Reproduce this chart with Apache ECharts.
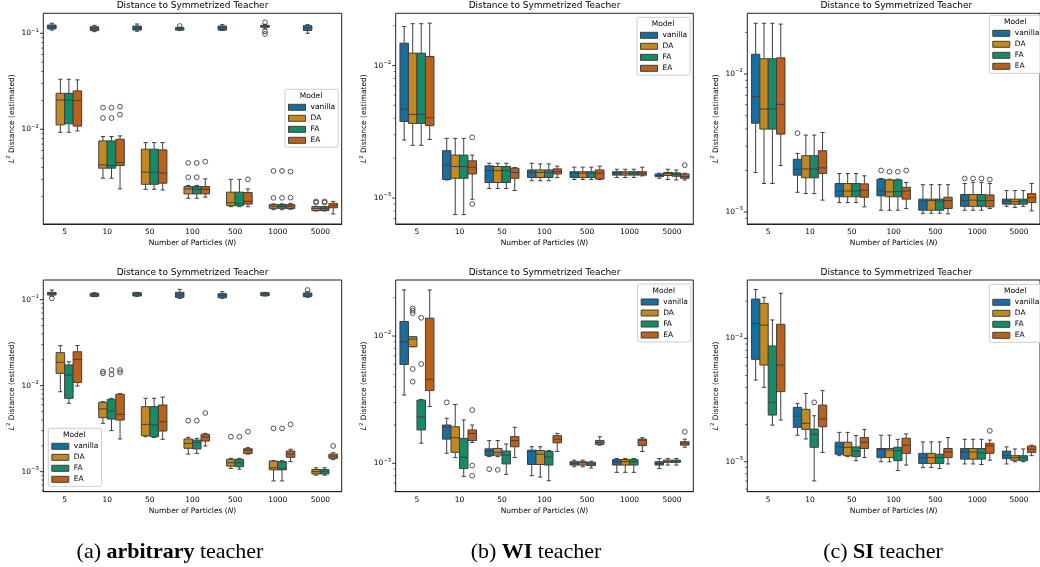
<!DOCTYPE html>
<html>
<head>
<meta charset="utf-8">
<script src="https://cdn.jsdelivr.net/npm/echarts@6/dist/echarts.min.js"></script>
<style>
  html, body { margin: 0; padding: 0; background: #fff; }
  #chart { width: 1040px; height: 567px; }
</style>
</head>
<body>
<div id="chart"></div>
<script>
// categories and models
const categories = ['5', '10', '50', '100', '500', '1000', '5000'];
const models = ['vanilla', 'DA', 'FA', 'EA'];

// box rows: [lower whisker, Q1, median, Q3, upper whisker], one row per category
// (a) arbitrary teacher, top
const aTopVanilla = [[0.108, 0.111, 0.116, 0.122, 0.127], [0.104, 0.107, 0.112, 0.117, 0.121], [0.105, 0.108, 0.114, 0.119, 0.125], [0.107, 0.108, 0.112, 0.1145, 0.116], [0.107, 0.108, 0.114, 0.119, 0.123], [0.111, 0.1155, 0.118, 0.121, 0.124], [0.100, 0.107, 0.114, 0.120, 0.123]];
const aTopDA = [[0.0093, 0.0111, 0.0202, 0.0237, 0.0332], [0.00309, 0.00393, 0.00425, 0.00756, 0.0084], [0.00237, 0.00267, 0.00357, 0.0062, 0.00726], [0.00191, 0.00212, 0.00239, 0.00253, 0.0026], [0.00156, 0.0016, 0.00172, 0.00221, 0.00301], [0.00145, 0.0015, 0.00158, 0.00164, 0.00167], [0.00141, 0.00142, 0.0015, 0.00156, 0.00156]];
const aTopFA = [[0.0093, 0.0114, 0.0202, 0.0237, 0.0332], [0.00309, 0.00393, 0.00419, 0.00756, 0.0084], [0.00237, 0.00267, 0.00357, 0.0062, 0.00726], [0.00191, 0.00212, 0.00237, 0.00253, 0.0026], [0.00156, 0.0016, 0.00169, 0.00221, 0.00301], [0.00145, 0.0015, 0.00158, 0.00164, 0.00167], [0.00141, 0.00142, 0.0015, 0.00156, 0.00156]];
const aTopEA = [[0.0096, 0.0108, 0.0199, 0.0251, 0.0327], [0.00239, 0.00419, 0.0045, 0.00787, 0.00853], [0.00233, 0.00274, 0.00351, 0.0061, 0.00726], [0.00196, 0.00212, 0.00237, 0.00253, 0.00304], [0.00156, 0.00166, 0.00177, 0.00219, 0.00239], [0.00147, 0.00149, 0.00158, 0.00164, 0.00169], [0.00131, 0.00152, 0.0016, 0.00169, 0.00177]];
// (b) WI teacher, top
const bTopVanilla = [[0.00274, 0.00378, 0.00468, 0.01475, 0.0197], [0.00137, 0.00138, 0.00177, 0.00228, 0.00282], [0.00118, 0.00131, 0.00161, 0.00175, 0.00183], [0.00135, 0.00143, 0.00156, 0.00163, 0.00183], [0.00138, 0.00143, 0.00154, 0.00158, 0.00171], [0.00143, 0.00149, 0.00154, 0.00158, 0.00165], [0.00141, 0.00145, 0.00148, 0.00152, 0.00154]];
const bTopDA = [[0.0025, 0.00366, 0.00428, 0.0124, 0.0207], [0.00075, 0.00141, 0.00173, 0.00211, 0.00282], [0.00118, 0.00131, 0.00161, 0.00173, 0.00183], [0.00135, 0.00143, 0.00156, 0.00163, 0.00181], [0.00138, 0.00143, 0.00154, 0.00158, 0.00171], [0.00143, 0.00149, 0.00154, 0.00158, 0.00165], [0.00138, 0.00148, 0.00153, 0.00156, 0.00165]];
const bTopFA = [[0.0025, 0.00366, 0.00428, 0.0124, 0.0207], [0.00075, 0.00141, 0.00173, 0.00211, 0.00282], [0.00118, 0.00131, 0.00161, 0.00173, 0.00183], [0.00135, 0.00143, 0.00156, 0.00163, 0.00181], [0.00138, 0.00143, 0.00154, 0.00158, 0.00171], [0.00143, 0.00149, 0.00154, 0.00158, 0.00165], [0.00137, 0.00146, 0.00151, 0.00155, 0.00163]];
const bTopEA = [[0.00277, 0.00352, 0.00404, 0.0117, 0.0209], [0.00098, 0.00152, 0.00171, 0.00191, 0.00211], [0.00114, 0.00141, 0.00156, 0.00168, 0.0017], [0.00143, 0.00152, 0.00158, 0.00166, 0.00174], [0.00138, 0.00139, 0.00154, 0.00163, 0.00174], [0.00147, 0.00149, 0.00154, 0.00158, 0.00171], [0.00137, 0.00141, 0.00145, 0.00152, 0.00154]];
// (c) SI teacher, top
const cTopVanilla = [[0.00193, 0.0044, 0.00686, 0.0139, 0.0233], [0.00139, 0.00185, 0.00204, 0.00241, 0.00266], [0.00117, 0.00129, 0.00142, 0.00161, 0.0019], [0.00103, 0.00131, 0.00142, 0.00173, 0.00175], [0.00098, 0.00103, 0.0012, 0.00124, 0.00158], [0.00103, 0.0011, 0.00121, 0.00134, 0.00161], [0.0011, 0.00114, 0.0012, 0.00124, 0.00143]];
const cTopDA = [[0.00161, 0.00399, 0.00557, 0.0129, 0.0233], [0.00136, 0.00177, 0.00205, 0.00256, 0.00361], [0.00117, 0.00129, 0.00142, 0.00161, 0.0019], [0.00103, 0.00129, 0.0014, 0.00171, 0.00173], [0.00098, 0.00103, 0.00121, 0.00124, 0.00158], [0.00103, 0.0011, 0.00122, 0.00134, 0.00164], [0.00108, 0.00114, 0.00119, 0.00124, 0.00143]];
const cTopFA = [[0.00161, 0.00399, 0.00557, 0.0129, 0.0233], [0.00136, 0.00177, 0.00205, 0.00256, 0.00361], [0.00117, 0.00129, 0.00142, 0.00161, 0.0019], [0.00103, 0.00129, 0.00141, 0.00171, 0.00173], [0.00098, 0.00103, 0.0012, 0.00124, 0.00158], [0.00103, 0.0011, 0.00121, 0.00134, 0.00164], [0.0011, 0.00114, 0.0012, 0.00124, 0.00143]];
const cTopEA = [[0.00217, 0.00367, 0.00603, 0.0131, 0.023], [0.00122, 0.0019, 0.00209, 0.00278, 0.00377], [0.00109, 0.00128, 0.00144, 0.0016, 0.00183], [0.00106, 0.00124, 0.00142, 0.00151, 0.00164], [0.00097, 0.00106, 0.00121, 0.00128, 0.00158], [0.00106, 0.00109, 0.00121, 0.00133, 0.00161], [0.00102, 0.00117, 0.00127, 0.00136, 0.00161]];
// (a) arbitrary teacher, bottom
const aBotVanilla = [[0.1103, 0.1133, 0.1175, 0.1217, 0.1295], [0.1084, 0.1094, 0.1143, 0.1185, 0.1206], [0.1094, 0.1103, 0.1154, 0.1206, 0.1217], [0.1036, 0.1065, 0.1143, 0.1217, 0.1318], [0.1036, 0.1055, 0.1113, 0.1175, 0.1239], [0.1103, 0.1113, 0.1164, 0.1206, 0.1217], [0.1065, 0.1084, 0.1133, 0.1196, 0.1239]];
const aBotDA = [[0.0085, 0.0139, 0.0187, 0.0242, 0.0292], [0.00365, 0.00425, 0.00536, 0.0064, 0.0065], [0.00255, 0.00262, 0.00355, 0.0057, 0.00713], [0.0016, 0.00187, 0.00213, 0.0024, 0.00251], [0.00109, 0.00116, 0.00127, 0.00139, 0.00143], [0.00078, 0.00105, 0.00111, 0.00133, 0.00134], [0.00091, 0.00094, 0.001, 0.00106, 0.00111]];
const aBotFA = [[0.00624, 0.00713, 0.0133, 0.0174, 0.019], [0.003, 0.00409, 0.00507, 0.00694, 0.00713], [0.0025, 0.00255, 0.00349, 0.0057, 0.00713], [0.00163, 0.00184, 0.00219, 0.00233, 0.00244], [0.00107, 0.00114, 0.00127, 0.00139, 0.00143], [0.00078, 0.00105, 0.00108, 0.00131, 0.00134], [0.00091, 0.00094, 0.001, 0.00106, 0.00111]];
const aBotEA = [[0.0099, 0.0109, 0.0202, 0.0248, 0.0292], [0.0024, 0.00398, 0.00465, 0.00794, 0.00807], [0.00238, 0.00297, 0.00381, 0.00596, 0.00738], [0.00199, 0.00227, 0.00253, 0.00272, 0.00279], [0.0016, 0.00163, 0.00177, 0.00185, 0.0019], [0.00131, 0.00147, 0.0016, 0.00174, 0.00182], [0.00138, 0.00143, 0.00152, 0.0016, 0.00166]];
// (b) WI teacher, bottom
const bBotVanilla = [[0.00344, 0.00598, 0.00903, 0.013, 0.023], [0.0012, 0.00155, 0.00192, 0.002, 0.00226], [0.00113, 0.00115, 0.00125, 0.0013, 0.00151], [0.0008, 0.00098, 0.00124, 0.00127, 0.00135], [0.00094, 0.00097, 0.001, 0.00103, 0.00106], [0.00085, 0.00097, 0.00103, 0.00107, 0.00109], [0.00091, 0.00097, 0.001, 0.00103, 0.00109]];
const bBotDA = [[0.00824, 0.00824, 0.00947, 0.00988, 0.00988], [0.00111, 0.00122, 0.00159, 0.00194, 0.0029], [0.00113, 0.00116, 0.00122, 0.00131, 0.00151], [0.00078, 0.00098, 0.00118, 0.00126, 0.00135], [0.00094, 0.00097, 0.00101, 0.00103, 0.00106], [0.00085, 0.00097, 0.00103, 0.00107, 0.00109], [0.00097, 0.00102, 0.00103, 0.00106, 0.00109]];
const bBotFA = [[0.00144, 0.00183, 0.00232, 0.00314, 0.00318], [0.00079, 0.00091, 0.00112, 0.00157, 0.00219], [0.00082, 0.00099, 0.00116, 0.00125, 0.00142], [0.00073, 0.00097, 0.00112, 0.00124, 0.00126], [0.00092, 0.00096, 0.00099, 0.00102, 0.00104], [0.00085, 0.00097, 0.00103, 0.00107, 0.00109], [0.00097, 0.00102, 0.00103, 0.00106, 0.00109]];
const bBotEA = [[0.00279, 0.00373, 0.00457, 0.0138, 0.023], [0.00146, 0.00151, 0.00172, 0.00183, 0.002], [0.00111, 0.00135, 0.00151, 0.00162, 0.00192], [0.00124, 0.00145, 0.00155, 0.00165, 0.00172], [0.00139, 0.00141, 0.00146, 0.00151, 0.00162], [0.00124, 0.00138, 0.00152, 0.00155, 0.00159], [0.00134, 0.00139, 0.00144, 0.00148, 0.00155]];
// (c) SI teacher, bottom
const cBotVanilla = [[0.00459, 0.00676, 0.0132, 0.0208, 0.0249], [0.00164, 0.0019, 0.00234, 0.00276, 0.00297], [0.00112, 0.00115, 0.00132, 0.00144, 0.00173], [0.001, 0.00108, 0.00126, 0.00128, 0.00164], [0.0009, 0.00097, 0.00108, 0.00117, 0.00145], [0.00096, 0.00105, 0.0012, 0.00128, 0.00152], [0.00096, 0.00106, 0.00112, 0.00122, 0.00132]];
const cBotDA = [[0.00401, 0.00608, 0.0128, 0.0192, 0.0215], [0.00153, 0.00183, 0.00205, 0.00266, 0.00358], [0.0011, 0.00112, 0.00131, 0.00144, 0.00173], [0.001, 0.00108, 0.00124, 0.00128, 0.00164], [0.0009, 0.00097, 0.00108, 0.00117, 0.00145], [0.00096, 0.00105, 0.0012, 0.00128, 0.00152], [0.001, 0.00103, 0.00108, 0.00112, 0.00127]];
const cBotFA = [[0.00198, 0.00239, 0.00301, 0.00867, 0.0141], [0.0007, 0.00131, 0.00167, 0.00184, 0.00236], [0.00102, 0.0011, 0.00122, 0.00132, 0.00163], [0.00085, 0.00102, 0.00123, 0.00131, 0.00152], [0.00088, 0.00097, 0.00108, 0.00115, 0.00145], [0.00095, 0.00105, 0.00118, 0.00128, 0.00152], [0.001, 0.00102, 0.00108, 0.00112, 0.00127]];
const cBotEA = [[0.00218, 0.0037, 0.00608, 0.013, 0.0232], [0.00119, 0.00192, 0.00222, 0.00288, 0.00377], [0.00108, 0.00128, 0.00144, 0.00157, 0.00183], [0.00094, 0.00117, 0.00136, 0.00155, 0.00168], [0.00096, 0.00108, 0.0012, 0.00128, 0.00157], [0.00103, 0.00117, 0.00135, 0.00141, 0.0015], [0.00112, 0.00119, 0.00126, 0.00134, 0.00136]];

// outliers: [model index, category index, value]
const aTopOutliers = [[0, 3, 0.119], [0, 5, 0.130], [0, 5, 0.105], [0, 5, 0.0985],
  [1, 1, 0.0168], [1, 1, 0.0131], [1, 3, 0.00446], [1, 3, 0.00316], [1, 5, 0.00368], [1, 5, 0.00193], [1, 6, 0.00177], [1, 6, 0.00172],
  [2, 1, 0.0168], [2, 1, 0.0131], [2, 3, 0.00446], [2, 3, 0.00316], [2, 5, 0.00368], [2, 5, 0.00193], [2, 6, 0.00177], [2, 6, 0.00172],
  [3, 1, 0.0172], [3, 1, 0.0142], [3, 3, 0.0046], [3, 4, 0.00301], [3, 5, 0.00362], [3, 5, 0.00194]];
const bTopOutliers = [[3, 1, 0.00287], [3, 1, 0.0009], [3, 6, 0.00177]];
const cTopOutliers = [[0, 1, 0.00373], [0, 3, 0.002], [1, 3, 0.00196], [2, 3, 0.00196], [3, 3, 0.002],
  [0, 5, 0.00175], [1, 5, 0.00175], [2, 5, 0.00175], [3, 5, 0.00172]];
const aBotOutliers = [[0, 0, 0.1036], [0, 6, 0.1295],
  [1, 1, 0.0146], [1, 1, 0.0139], [2, 1, 0.0152], [2, 1, 0.0135], [3, 1, 0.0152], [3, 1, 0.0143],
  [1, 3, 0.00392], [2, 3, 0.00392], [3, 3, 0.00481], [1, 4, 0.00255], [2, 4, 0.00255], [3, 4, 0.00292],
  [1, 5, 0.00319], [2, 5, 0.00319], [3, 5, 0.00355], [3, 6, 0.00199]];
const bBotOutliers = [[1, 0, 0.0165], [1, 0, 0.0158], [1, 0, 0.0151], [1, 0, 0.00551], [1, 0, 0.00438],
  [2, 0, 0.0139], [2, 0, 0.00603], [0, 1, 0.00301], [3, 1, 0.00262], [3, 1, 0.00096], [3, 1, 0.0008],
  [0, 2, 0.0009], [1, 2, 0.00089], [3, 6, 0.00177]];
const cBotOutliers = [[2, 1, 0.00303], [3, 5, 0.00178]];

const boxes = [
  [aTopVanilla, aTopDA, aTopFA, aTopEA],
  [bTopVanilla, bTopDA, bTopFA, bTopEA],
  [cTopVanilla, cTopDA, cTopFA, cTopEA],
  [aBotVanilla, aBotDA, aBotFA, aBotEA],
  [bBotVanilla, bBotDA, bBotFA, bBotEA],
  [cBotVanilla, cBotDA, cBotFA, cBotEA]
];
const outliers = [aTopOutliers, bTopOutliers, cTopOutliers, aBotOutliers, bBotOutliers, cBotOutliers];

// layout of the six panels (pixels) and their log-axis limits
const panels = [
  { left: 43.3, top: 13.3, width: 298.4, height: 210.7, min: 1.03e-3, max: 0.1615, nameGap: 25, legend: [285, 89.3] },
  { left: 395.7, top: 13.3, width: 297.6, height: 210.7, min: 6.37e-4, max: 0.0248, nameGap: 24, legend: [637, 17.3] },
  { left: 747.3, top: 13.3, width: 298, height: 210.7, min: 8.19e-4, max: 0.02754, nameGap: 24, legend: [989.3, 15.3] },
  { left: 43.3, top: 280, width: 298.4, height: 211.7, min: 5.85e-4, max: 0.1693, nameGap: 25, legend: [48.3, 428.3] },
  { left: 395.7, top: 280, width: 297.6, height: 211.7, min: 5.99e-4, max: 0.02754, nameGap: 24, legend: [637.7, 284] },
  { left: 747.3, top: 280, width: 298, height: 211.7, min: 5.72e-4, max: 0.0297, nameGap: 24, legend: [989.3, 284.3] }
];
const captions = [
  { x: 170, text: '(a) {b|arbitrary} teacher' },
  { x: 536, text: '(b) {b|WI} teacher' },
  { x: 883, text: '(c) {b|SI} teacher' }
];

const fills = ['#176d9c', '#c38820', '#168b6a', '#ba611b'];
const edge = '#3f3f3f';
const FONT = 'DejaVu Sans';
const SERIF = 'Liberation Serif';

let myChart = echarts.init(document.getElementById('chart'));

function powLabel(v) {
  const e = Math.log10(v);
  if (Math.abs(e - Math.round(e)) > 1e-6) return '';
  return '{b|10}{s|\u2212' + Math.abs(Math.round(e)) + '}';
}

// one box per category, dodged by model index like seaborn's hue
function boxRenderer(hue) {
  return function (params, api) {
    const cs = params.coordSys;
    const band = cs.width / categories.length;
    const w = band * 0.8 / models.length;
    const cat = api.value(0);
    const x = api.coord([cat, api.value(3)])[0] + (hue - 1.5) * w;
    const y = (d) => api.coord([cat, api.value(d)])[1];
    const yLo = y(1), yQ1 = y(2), yMed = y(3), yQ3 = y(4), yHi = y(5);
    const half = w / 2;
    const cap = half / 2;
    const line = { stroke: edge, lineWidth: 1 };
    return {
      type: 'group',
      children: [
        { type: 'line', shape: { x1: x, y1: yQ1, x2: x, y2: yLo }, style: line },
        { type: 'line', shape: { x1: x, y1: yQ3, x2: x, y2: yHi }, style: line },
        { type: 'line', shape: { x1: x - cap, y1: yLo, x2: x + cap, y2: yLo }, style: line },
        { type: 'line', shape: { x1: x - cap, y1: yHi, x2: x + cap, y2: yHi }, style: line },
        { type: 'rect', shape: { x: x - half, y: yQ3, width: 2 * half, height: yQ1 - yQ3 }, style: { fill: fills[hue], stroke: edge, lineWidth: 1 } },
        { type: 'line', shape: { x1: x - half, y1: yMed, x2: x + half, y2: yMed }, style: line }
      ]
    };
  };
}

function outlierRenderer(params, api) {
  const cs = params.coordSys;
  const w = cs.width / categories.length * 0.8 / models.length;
  const hue = api.value(0);
  const p = api.coord([api.value(1), api.value(2)]);
  return {
    type: 'circle',
    shape: { cx: p[0] + (hue - 1.5) * w, cy: p[1], r: 2.4 },
    style: { fill: 'none', stroke: edge, lineWidth: 0.9 }
  };
}

// matplotlib-style log ticks (major at decades, minor at 2..9)
function tickRenderer(params, api) {
  const cs = params.coordSys;
  const major = api.value(1) === 1;
  const y = api.coord([0, api.value(0)])[1];
  const len = major ? 3.5 : 2;
  return {
    type: 'line',
    shape: { x1: cs.x - len, y1: y, x2: cs.x, y2: y },
    style: { stroke: '#000', lineWidth: major ? 0.8 : 0.6 }
  };
}

const grid = [], xAxis = [], yAxis = [], series = [], title = [], legend = [], graphic = [];

panels.forEach((p, pi) => {
  grid.push({ left: p.left, top: p.top, width: p.width, height: p.height, show: true, borderColor: '#222', borderWidth: 1, backgroundColor: 'transparent' });
  xAxis.push({
    type: 'category', gridIndex: pi, data: categories, boundaryGap: true,
    axisLine: { show: true, lineStyle: { color: '#222', width: 1 } },
    axisTick: { alignWithLabel: true, length: 3, lineStyle: { color: '#000', width: 0.8 } },
    axisLabel: { color: '#000', fontFamily: FONT, fontSize: 7.5, margin: 4.5 },
    splitLine: { show: false },
    name: 'Number of Particles ({i|N})', nameLocation: 'middle', nameGap: 15,
    nameTextStyle: { color: '#000', fontFamily: FONT, fontSize: 7.5, rich: { i: { fontStyle: 'italic', fontFamily: FONT, fontSize: 7.5, color: '#000' } } }
  });
  yAxis.push({
    type: 'log', logBase: 10, gridIndex: pi, min: p.min, max: p.max,
    axisLine: { show: false }, axisTick: { show: false }, splitLine: { show: false },
    axisLabel: {
      formatter: powLabel, margin: 4.5, color: '#000',
      rich: {
        b: { fontFamily: FONT, fontSize: 7.5, lineHeight: 11, color: '#000' },
        s: { fontFamily: FONT, fontSize: 5.3, lineHeight: 6, verticalAlign: 'top', color: '#000' }
      }
    },
    name: '{i|L}{s|2} Distance (estimated)', nameLocation: 'middle', nameGap: p.nameGap,
    nameTextStyle: {
      color: '#000', fontFamily: FONT, fontSize: 7.5, lineHeight: 11,
      rich: {
        i: { fontStyle: 'italic', fontFamily: FONT, fontSize: 7.5, lineHeight: 11, color: '#000' },
        s: { fontFamily: FONT, fontSize: 5.3, lineHeight: 6, verticalAlign: 'top', color: '#000' }
      }
    }
  });
  title.push({
    text: 'Distance to Symmetrized Teacher', left: p.left + p.width / 2, top: p.top - 12,
    textAlign: 'center', padding: 0,
    textStyle: { fontFamily: FONT, fontSize: 9, fontWeight: 'normal', color: '#000' }
  });

  boxes[pi].forEach((rows, h) => {
    series.push({
      type: 'custom', name: models[h], xAxisIndex: pi, yAxisIndex: pi, silent: true, z: 2,
      itemStyle: { color: fills[h] },
      encode: { x: 0, y: [1, 2, 3, 4, 5] },
      data: rows.map((r, i) => [i].concat(r)),
      renderItem: boxRenderer(h)
    });
  });
  models.forEach((m, h) => {
    series.push({
      type: 'custom', name: m, xAxisIndex: pi, yAxisIndex: pi, silent: true, z: 3,
      itemStyle: { color: fills[h] },
      encode: { x: 1, y: 2 },
      data: outliers[pi].filter((o) => o[0] === h),
      renderItem: outlierRenderer
    });
  });

  const ticks = [];
  for (let e = -4; e <= 0; e++) {
    for (let k = 1; k <= 9; k++) {
      const v = k * Math.pow(10, e);
      if (v >= p.min && v <= p.max) ticks.push([v, k]);
    }
  }
  series.push({
    type: 'custom', xAxisIndex: pi, yAxisIndex: pi, silent: true, clip: false,
    encode: { y: 0 }, data: ticks, renderItem: tickRenderer
  });

  const [lx, ly] = p.legend;
  legend.push({
    left: lx, top: ly, orient: 'vertical', icon: 'rect', selectedMode: false,
    padding: [13.5, 3, 2.5, 3], itemGap: 2, itemWidth: 17, itemHeight: 6,
    backgroundColor: 'rgba(255,255,255,0.8)', borderColor: '#cccccc', borderWidth: 1, borderRadius: 2,
    textStyle: { fontFamily: FONT, fontSize: 7.5, lineHeight: 9, color: '#000' },
    data: models.map((m, h) => ({ name: m, itemStyle: { color: fills[h], borderColor: edge, borderWidth: 1 } }))
  });
  graphic.push({
    type: 'text', x: lx + 26, y: ly + 6.7, z: 100,
    style: { text: 'Model', align: 'center', verticalAlign: 'middle', fontFamily: FONT, fontSize: 7.5, fill: '#000' }
  });
});

captions.forEach((c) => {
  graphic.push({
    type: 'text', x: c.x, y: 552,
    style: {
      text: c.text, align: 'center', verticalAlign: 'middle', fontFamily: SERIF, fontSize: 22, fill: '#000',
      rich: { b: { fontFamily: SERIF, fontSize: 22, fontWeight: 'bold', fill: '#000' } }
    }
  });
});

var option = {
  animation: false,
  backgroundColor: '#fff',
  title: title,
  legend: legend,
  grid: grid,
  xAxis: xAxis,
  yAxis: yAxis,
  series: series,
  graphic: graphic
};

window.onresize = myChart.resize;
myChart.setOption(option);
</script>
</body>
</html>
